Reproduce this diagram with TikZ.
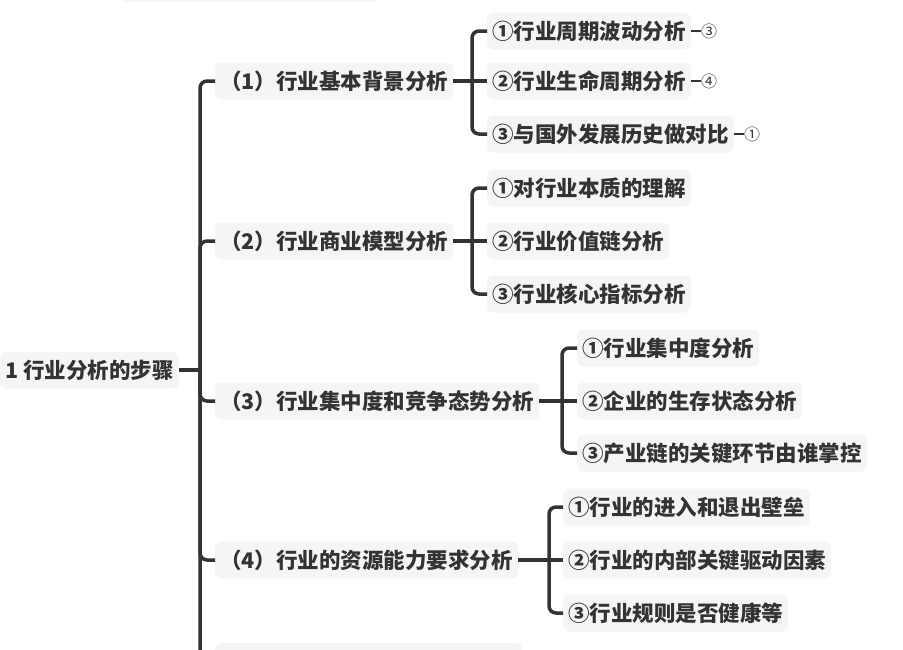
\documentclass[tikz,border=0pt]{standalone}
\usepackage{fontspec}
\setmainfont{Noto Sans CJK SC}
\usepackage{tikz}
\definecolor{ink}{HTML}{333333}
\definecolor{boxgray}{HTML}{F5F5F5}
\begin{document}
\begin{tikzpicture}[x=1pt, y=-1pt,
		box_style/.style={anchor=west, fill=boxgray, rounded corners=6pt, minimum height=37pt,
			inner xsep=5pt, text=ink, font=\fontsize{21.5}{21.5}\selectfont\bfseries},
		tag_style/.style={anchor=west, inner sep=0pt, text=ink, font=\fontsize{16}{16}\selectfont},
		edge_style/.style={draw=ink, line width=3.5pt, rounded corners=7pt}]
		
		\useasboundingbox (0,0) rectangle (903,649);
		\fill[boxgray, rounded corners=6pt] (120,-20) rectangle (380,2);
		\fill[boxgray, rounded corners=6pt] (215,643) rectangle (522,670);
		
		\node[box_style] (root) at (0,370)  {1 行业分析的步骤};
		
		\node[box_style] (b1) at (215,81)  {（1）行业基本背景分析};
		\node[box_style] (b2) at (215,241)  {（2）行业商业模型分析};
		\node[box_style] (b3) at (215,401)  {（3）行业集中度和竞争态势分析};
		\node[box_style] (b4) at (215,560)  {（4）行业的资源能力要求分析};
		
		\node[box_style] (b11) at (487,31)  {①行业周期波动分析};
		\node[box_style] (b12) at (487,81)  {②行业生命周期分析};
		\node[box_style] (b13) at (487,134)  {③与国外发展历史做对比};
		\node[box_style] (b21) at (487,188)  {①对行业本质的理解};
		\node[box_style] (b22) at (487,241)  {②行业价值链分析};
		\node[box_style] (b23) at (487,294)  {③行业核心指标分析};
		\node[box_style] (b31) at (577,348)  {①行业集中度分析};
		\node[box_style] (b32) at (577,401)  {②企业的生存状态分析};
		\node[box_style] (b33) at (577,453)  {③产业链的关键环节由谁掌控};
		\node[box_style] (b41) at (563,507)  {①行业的进入和退出壁垒};
		\node[box_style] (b42) at (563,560)  {②行业的内部关键驱动因素};
		\node[box_style] (b43) at (563,613)  {③行业规则是否健康等};
		
		\node[tag_style] (t11) at ([xshift=10pt]b11.east)  {③};
		\node[tag_style] (t12) at ([xshift=10pt]b12.east)  {④};
		\node[tag_style] (t13) at ([xshift=10pt]b13.east)  {①};
		
		\draw[edge_style]  (root.east) -- (200,370);
		\draw[edge_style]  (200,700) -- (200,370) |- (b1.west);
		\draw[edge_style]  (200,370) |- (b2.west);
		\draw[edge_style]  (200,370) |- (b3.west);
		\draw[edge_style]  (200,370) |- (b4.west);
		
		\foreach \p/\x in {1/472, 2/472, 3/562, 4/549} {
			\draw[edge_style]  (b\p.east) -- (\x,0 |- b\p.east);
			\foreach \c in {1,3}
				\draw[edge_style]  (\x,0 |- b\p.east) |- (b\p\c.west);
			\draw[edge_style]  (\x,0 |- b\p.east) -- (b\p2.west);
		}
		\foreach \c in {1,2,3}
			\draw[draw=ink, line width=2.5pt]  (b1\c.east) -- (t1\c.west);
		
		\end{tikzpicture}
\end{document}
